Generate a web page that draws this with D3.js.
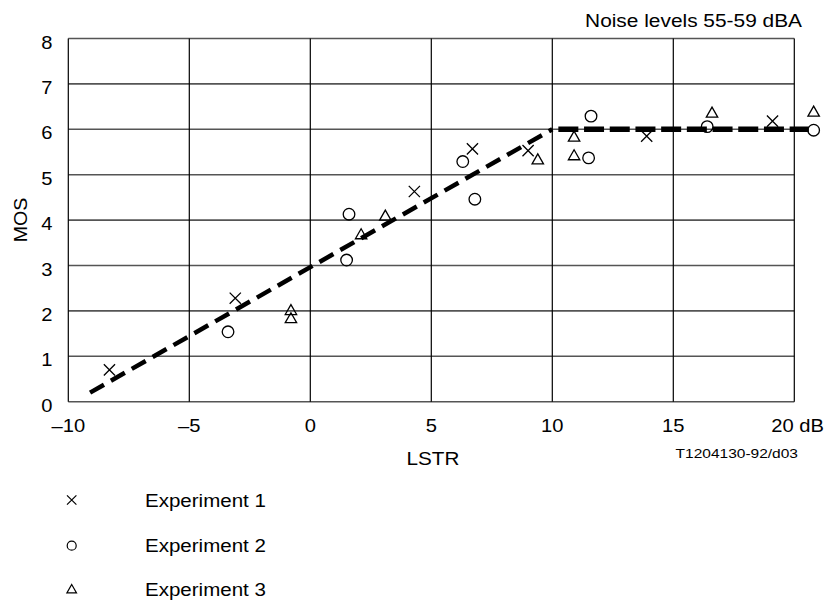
<!DOCTYPE html>
<html>
<head>
<meta charset="utf-8">
<script src="https://cdn.jsdelivr.net/npm/d3@7"></script>
<style>
  body { margin: 0; background: #fff; }
  svg { display: block; font-family: "Liberation Sans", Arial, sans-serif; }
</style>
</head>
<body>
<svg width="833" height="602"></svg>
<script>
// values
var exp1X = [-8.3, -3.1, 4.3, 6.7, 9.0, 13.9, 19.1]
var exp1Y = [0.70, 2.28, 4.63, 5.57, 5.53, 5.85, 6.18]
var exp2X = [-3.4, 1.5, 1.6, 6.3, 6.8, 11.6, 11.5, 16.4, 20.8]
var exp2Y = [1.54, 3.12, 4.13, 5.29, 4.46, 6.29, 5.37, 6.06, 5.98]
var exp3X = [-0.8, -0.8, 2.1, 3.1, 9.4, 10.9, 10.9, 16.6, 20.8]
var exp3Y = [2.02, 1.84, 3.69, 4.10, 5.34, 5.84, 5.43, 6.37, 6.39]

var trendX = [-9.1, 10]
var trendY = [0.2, 6]
var plateauX = [10.25, 20.6]
var plateauY = [6, 6]

var xTicks = [-10, -5, 0, 5, 10, 15, 20]
var xTickLabels = ["\u201310", "\u20135", "0", "5", "10", "15", "20 dB"]
var yTicks = [0, 1, 2, 3, 4, 5, 6, 7, 8]
var legendNames = ["Experiment 1", "Experiment 2", "Experiment 3"]

var svg = d3.select("svg")
var x = d3.scaleLinear().domain([-10, 20]).range([68.3, 794.3])
var y = d3.scaleLinear().domain([0, 8]).range([401.7, 38.5])

// text is a bit wider than Arial in the original, so stretch it
function label(px, py, txt, size, anchor, sx, rot) {
  var t = `translate(${px},${py})` + (rot ? ` rotate(${rot})` : "") + ` scale(${sx},1)`
  return svg.append("text").attr("transform", t)
    .attr("text-anchor", anchor).style("font-size", size + "px").style("fill", "#000")
    .text(txt)
}

// grid
svg.append("g").selectAll("line").data(yTicks).enter().append("line")
  .attr("x1", x(-10)).attr("x2", x(20))
  .attr("y1", d => y(d)).attr("y2", d => y(d))
  .style("stroke", "#555").style("stroke-width", 1.6)
svg.append("g").selectAll("line").data(xTicks).enter().append("line")
  .attr("x1", d => x(d)).attr("x2", d => x(d))
  .attr("y1", y(0)).attr("y2", y(8))
  .style("stroke", "#000").style("stroke-width", 1.2)

// tick labels
xTicks.forEach(function(d, i) {
  if (i == xTicks.length - 1) label(x(d) - 23, 432, xTickLabels[i], 18, "start", 1.12)
  else label(x(d), 432, xTickLabels[i], 18, "middle", 1.12)
})
yTicks.forEach(function(d) {
  label(52.5, y(d) + 10, d, 18, "end", 1.12)
})

label(433, 465, "LSTR", 18, "middle", 1.15)
label(27, 220, "MOS", 17.5, "middle", 1.12, -90)
label(802, 26.7, "Noise levels 55-59 dBA", 17.7, "end", 1.18)
label(798, 457.5, "T1204130-92/d03", 13.5, "end", 1.15)

// fitted lines
var lineGen = d3.line().x(d => x(d[0])).y(d => y(d[1]))
svg.append("path").attr("d", lineGen(d3.zip(trendX, trendY)))
  .style("fill", "none").style("stroke", "#000").style("stroke-width", 4.5)
  .style("stroke-dasharray", "16,8")
svg.append("path").attr("d", lineGen(d3.zip(plateauX, plateauY)))
  .style("fill", "none").style("stroke", "#000").style("stroke-width", 5.5)
  .style("stroke-dasharray", "20,5.7")

// markers
function cross(s) { return `M${-s},${-s}L${s},${s}M${-s},${s}L${s},${-s}` }
function tri(s) { return `M0,${-s * 0.95}L${s},${s * 0.8}L${-s},${s * 0.8}Z` }
var shapes = [
  sel => sel.append("path").attr("d", cross(5.6)),
  sel => sel.append("circle").attr("r", 5.8),
  sel => sel.append("path").attr("d", tri(5.7))
]
var legendShapes = [
  sel => sel.append("path").attr("d", cross(4.7)),
  sel => sel.append("circle").attr("r", 4.5),
  sel => sel.append("path").attr("d", tri(4.8))
]

var series = [d3.zip(exp1X, exp1Y), d3.zip(exp2X, exp2Y), d3.zip(exp3X, exp3Y)]
series.forEach(function(pts, i) {
  svg.append("g").attr("class", "exp" + i).selectAll("g").data(pts).enter().append("g")
    .attr("transform", d => `translate(${x(d[0])},${y(d[1])})`)
    .each(function() { shapes[i](d3.select(this)) })
    .selectAll("path,circle").style("fill", "none").style("stroke", "#000").style("stroke-width", 1.3)
})

// legend
var legendY = [500, 545.7, 589]
legendNames.forEach(function(name, i) {
  var g = svg.append("g").attr("transform", `translate(71.7,${legendY[i]})`)
  legendShapes[i](g)
  g.selectAll("path,circle").style("fill", "none").style("stroke", "#000").style("stroke-width", 1.2)
  label(145, legendY[i] + 6.7, name, 18.5, "start", 1.11)
})
</script>
</body>
</html>
